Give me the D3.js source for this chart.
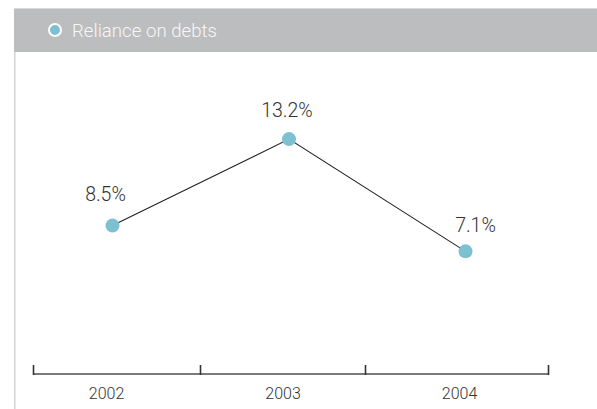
<!DOCTYPE html>
<html>
<head>
<meta charset="utf-8">
<script src="https://cdn.jsdelivr.net/npm/d3@7/dist/d3.min.js"></script>
<style>
  html, body { margin: 0; padding: 0; background: #fff; }
  svg { display: block; font-family: Roboto, "Liberation Sans", sans-serif; }
</style>
</head>
<body>
<svg id="chart" width="597" height="409"></svg>
<script>
// Reliance on debts, by year (%)
const years = [2002, 2003, 2004];
const values = [8.5, 13.2, 7.1];
const valueLabels = ["8.5%", "13.2%", "7.1%"];
const seriesName = "Reliance on debts";
// Year boundaries that separate the category cells on the axis
const cellEdges = [2001.552, 2002.493, 2003.428, 2004.47];

const svg = d3.select("#chart");
const W = 597, H = 409;

// Frame: header band and left rule
svg.append("rect").attr("x", 14).attr("y", 8).attr("width", W - 14).attr("height", 44)
  .attr("fill", "#bcbdbf");
svg.append("rect").attr("x", 14).attr("y", 8).attr("width", W - 14).attr("height", 1)
  .attr("fill", "#d9d9da");
svg.append("rect").attr("x", 14).attr("y", 52).attr("width", 1.5).attr("height", H - 52)
  .attr("fill", "#d4d4d4");

// Legend
svg.append("circle").attr("cx", 55).attr("cy", 30).attr("r", 6)
  .attr("fill", "#7cc0d2").attr("stroke", "#fff").attr("stroke-width", 2);
svg.append("text").attr("x", 72).attr("y", 37).text(seriesName)
  .attr("font-size", 19).attr("font-weight", 300).attr("fill", "#f7f7f7")
  .attr("textLength", 145).attr("lengthAdjust", "spacingAndGlyphs");

// Scales
const x = d3.scaleLinear().domain([2002, 2004]).range([112.5, 465.5]);
const y = d3.scaleLinear().domain([0, 15]).range([382, 106]);

// Category axis: baseline, cell dividers and year labels
const axisY = 374;
svg.append("line")
  .attr("x1", x(cellEdges[0])).attr("x2", x(cellEdges[cellEdges.length - 1]))
  .attr("y1", axisY).attr("y2", axisY)
  .attr("stroke", "#7a7a7a").attr("stroke-width", 2);
svg.selectAll("line.tick").data(cellEdges).join("line").attr("class", "tick")
  .attr("x1", d => Math.round(x(d)) + 0.5).attr("x2", d => Math.round(x(d)) + 0.5)
  .attr("y1", axisY - 9).attr("y2", axisY + 1)
  .attr("stroke", "#333").attr("stroke-width", 1.6);
svg.selectAll("text.year").data(years).join("text").attr("class", "year")
  .attr("x", d => x(d) - 6).attr("y", 399)
  .attr("text-anchor", "middle").attr("font-size", 16).attr("font-weight", 300)
  .attr("fill", "#333").text(d => d);

// Series line
const pts = years.map((yr, i) => ({ yr, v: values[i], label: valueLabels[i] }));
svg.append("path").datum(pts)
  .attr("d", d3.line().x(d => x(d.yr)).y(d => y(d.v)))
  .attr("fill", "none").attr("stroke", "#222").attr("stroke-width", 1.1);

// Markers
svg.selectAll("circle.pt").data(pts).join("circle").attr("class", "pt")
  .attr("cx", d => x(d.yr)).attr("cy", d => y(d.v)).attr("r", 7)
  .attr("fill", "#7cc0d2");

// Value labels above each marker
const labelNudge = [-7, -2, 10];
const labelLift = [25, 22, 19];
svg.selectAll("text.val").data(pts).join("text").attr("class", "val")
  .attr("x", (d, i) => x(d.yr) + labelNudge[i])
  .attr("y", (d, i) => y(d.v) - labelLift[i])
  .attr("text-anchor", "middle").attr("font-size", 19.5).attr("font-weight", 300)
  .attr("fill", "#333").text(d => d.label);
</script>
</body>
</html>
